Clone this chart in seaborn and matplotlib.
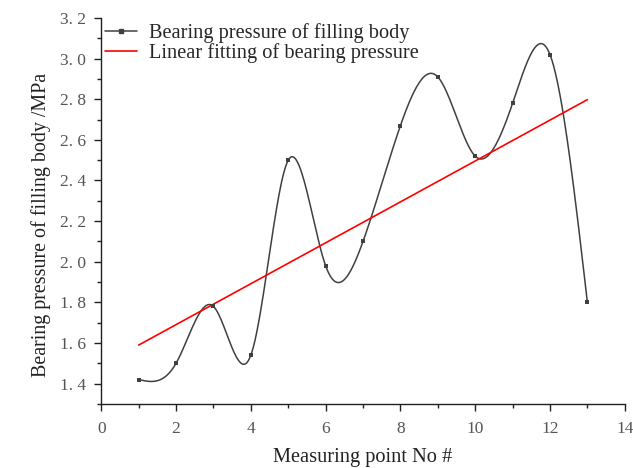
import numpy as np
import pandas as pd
import matplotlib
matplotlib.use("Agg")
import matplotlib.pyplot as plt
import seaborn as sns
from matplotlib.lines import Line2D
from matplotlib.ticker import MultipleLocator, FuncFormatter

# Data
points = [1, 2, 3, 4, 5, 6, 7, 8, 9, 10, 11, 12, 13]
pressure = [1.42, 1.50, 1.78, 1.54, 2.50, 1.98, 2.10, 2.67, 2.91, 2.52, 2.78, 3.02, 1.80]
series_label = "Bearing pressure of filling body"
fit_label = "Linear fitting of bearing pressure"
x_label = "Measuring point No #"
y_label = "Bearing pressure of filling body /MPa"


def natural_cubic_spline(x, y, xs):
    x = np.asarray(x, float)
    y = np.asarray(y, float)
    n = len(x)
    h = np.diff(x)
    A = np.zeros((n, n))
    b = np.zeros(n)
    A[0, 0] = 1
    A[-1, -1] = 1
    for i in range(1, n - 1):
        A[i, i - 1] = h[i - 1]
        A[i, i] = 2 * (h[i - 1] + h[i])
        A[i, i + 1] = h[i]
        b[i] = 6 * ((y[i + 1] - y[i]) / h[i] - (y[i] - y[i - 1]) / h[i - 1])
    M = np.linalg.solve(A, b)
    idx = np.clip(np.searchsorted(x, xs) - 1, 0, n - 2)
    x0, x1 = x[idx], x[idx + 1]
    hh = x1 - x0
    t0 = x1 - xs
    t1 = xs - x0
    return (M[idx] * t0 ** 3 / (6 * hh) + M[idx + 1] * t1 ** 3 / (6 * hh)
            + (y[idx] / hh - M[idx] * hh / 6) * t0
            + (y[idx + 1] / hh - M[idx + 1] * hh / 6) * t1)


sns.set_theme(style="white")
plt.rcParams["font.family"] = ["Liberation Serif", "DejaVu Serif"]

fig = plt.figure(figsize=(6.33, 4.68), dpi=100)
ax = fig.add_axes([0.16, 0.137, 0.827, 0.8245])

xs = np.linspace(points[0], points[-1], 600)
smooth = pd.DataFrame({"x": xs, "y": natural_cubic_spline(points, pressure, xs)})
line_color = "#404040"
sns.lineplot(data=smooth, x="x", y="y", ax=ax, color=line_color, linewidth=1.1,
             estimator=None, sort=False)
sns.scatterplot(x=points, y=pressure, ax=ax, color=line_color, marker="s", s=9,
                linewidth=0, zorder=3)

slope, intercept = np.polyfit(points, pressure, 1)
fit_x = np.array([points[0], points[-1]])
sns.lineplot(x=fit_x, y=slope * fit_x + intercept, ax=ax, color="#ff0000", linewidth=1.2)

ax.set_xlim(0, 14)
ax.set_ylim(1.3, 3.2)
ax.xaxis.set_major_locator(MultipleLocator(2))
ax.xaxis.set_minor_locator(MultipleLocator(1))
ax.yaxis.set_major_locator(MultipleLocator(0.2))
ax.yaxis.set_minor_locator(MultipleLocator(0.1))
ax.yaxis.set_major_formatter(FuncFormatter(lambda v, p: f"{v:.1f}".replace(".", ". ")))

for s in ["top", "right"]:
    ax.spines[s].set_visible(False)
for s in ["left", "bottom"]:
    ax.spines[s].set_color("#202020")
    ax.spines[s].set_linewidth(1.0)

ax.tick_params(which="major", direction="out", length=5, width=1, color="#202020",
               labelsize=12.5, labelcolor="#555555", left=True, bottom=True)
ax.tick_params(axis="x", which="major", pad=7)
ax.tick_params(axis="y", which="major", pad=6)
ax.tick_params(which="minor", direction="out", length=3, width=1, color="#202020",
               left=True, bottom=True)

ax.set_xlabel(x_label, fontsize=14.7, color="#222222", labelpad=8)
ax.set_ylabel(y_label, fontsize=14.4, color="#222222")
ax.yaxis.set_label_coords(-0.097, 0.464)

handles = [Line2D([0], [0], color=line_color, linewidth=1.1, marker="s", markersize=2.5),
           Line2D([0], [0], color="#ff0000", linewidth=1.2)]
ax.legend(handles, [series_label, fit_label], loc="upper left", frameon=False,
          fontsize=14.7, handlelength=1.55, handletextpad=0.6, borderpad=0,
          borderaxespad=0, labelspacing=0.0, bbox_to_anchor=(0.008, 0.987))

fig.savefig("out.png", dpi=100)
